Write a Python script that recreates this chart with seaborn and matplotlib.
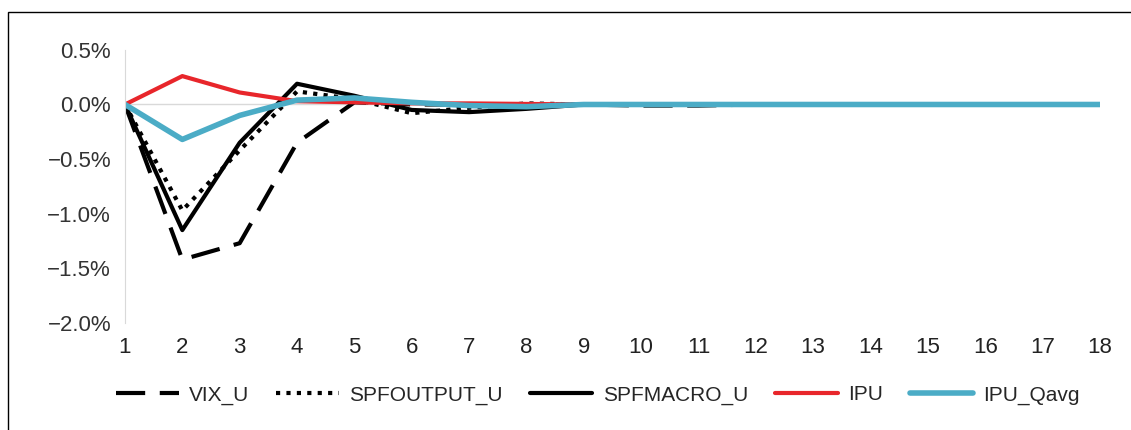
import matplotlib
matplotlib.use("Agg")
import matplotlib.pyplot as plt
import seaborn as sns

periods = list(range(1, 19))
vix_u = [0, -1.42, -1.27, -0.35, 0.02, 0.0, 0.0, 0.0, 0.0, -0.01, -0.01, 0, 0, 0, 0, 0, 0, 0]
spfoutput_u = [0, -0.97, -0.42, 0.12, 0.05, -0.08, -0.03, 0.01, 0.0, 0, 0, 0, 0, 0, 0, 0, 0, 0]
spfmacro_u = [0, -1.15, -0.35, 0.19, 0.08, -0.05, -0.07, -0.04, 0.0, 0, 0, 0, 0, 0, 0, 0, 0, 0]
ipu = [0, 0.26, 0.11, 0.03, 0.02, 0.01, 0.01, 0.005, 0, 0, 0, 0, 0, 0, 0, 0, 0, 0]
ipu_qavg = [0, -0.32, -0.10, 0.04, 0.06, 0.02, -0.01, -0.02, 0, 0, 0, 0, 0, 0, 0, 0, 0, 0]

series = {"VIX_U": vix_u, "SPFOUTPUT_U": spfoutput_u, "SPFMACRO_U": spfmacro_u,
          "IPU": ipu, "IPU_Qavg": ipu_qavg}
styles = {"VIX_U": dict(color="black", dashes=(7, 3.5), lw=3),
          "SPFOUTPUT_U": dict(color="black", dashes=(1, 1.5), lw=3),
          "SPFMACRO_U": dict(color="black", dashes=(), lw=3),
          "IPU": dict(color="#e8262b", dashes=(), lw=3),
          "IPU_Qavg": dict(color="#4bacc6", dashes=(), lw=4)}

sns.set_style("white")
plt.rcParams['font.family'] = ['Liberation Sans', 'DejaVu Sans']
fig = plt.figure(figsize=(11.31, 4.30), dpi=100)
ax = fig.add_axes([0.1105, 0.249, 0.862, 0.635])
ax.axhline(0, color="#d9d9d9", lw=1, zorder=0)
for name, vals in series.items():
    st = styles[name]
    sns.lineplot(x=periods, y=vals, ax=ax, label=name, color=st["color"], lw=st["lw"])
    ln = ax.lines[-1]
    if st["dashes"]:
        ln.set_dashes(st["dashes"])
ax.set_xlim(1, 18)
ax.set_ylim(-2.0, 0.5)
ax.set_yticks([-2.0, -1.5, -1.0, -0.5, 0.0, 0.5])
ax.set_yticklabels(["\u22122.0%", "\u22121.5%", "\u22121.0%", "\u22120.5%", "0.0%", "0.5%"])
ax.set_xticks(periods)
ax.set_xticklabels([str(p) for p in periods])
for s in ["top", "right", "bottom"]:
    ax.spines[s].set_visible(False)
ax.spines["left"].set_color("#d9d9d9")
ax.tick_params(axis="y", length=6, color="#d9d9d9", labelsize=16, labelcolor="#333333", pad=4)
ax.tick_params(axis="x", length=0, labelsize=16, labelcolor="#222222", pad=10)
ax.legend(loc="upper center", bbox_to_anchor=(0.485, -0.16), ncol=5, frameon=False,
          fontsize=15, handlelength=3.0, columnspacing=1.3, handletextpad=0.5)
fig.patches.append(plt.Rectangle((0.007, -0.01), 0.995, 0.982, transform=fig.transFigure,
                                 fill=False, edgecolor="black", lw=1))
fig.savefig("out.png", dpi=100)
